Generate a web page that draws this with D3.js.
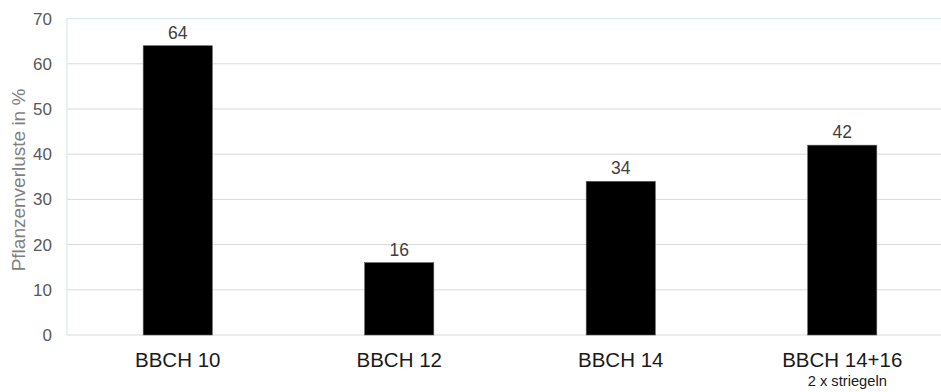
<!DOCTYPE html>
<html><head><meta charset="utf-8">
<script src="https://cdn.jsdelivr.net/npm/d3@7"></script>
<style>body{margin:0;background:#fff;}svg{display:block;font-family:"Liberation Sans",Arial,sans-serif;}</style>
</head><body>
<svg id="c" width="941" height="392"></svg>
<script>
const categories = ["BBCH 10", "BBCH 12", "BBCH 14", "BBCH 14+16"];
const subLabels = ["", "", "", "2 x striegeln"];
const values = [64, 16, 34, 42];
const yTicks = [0, 10, 20, 30, 40, 50, 60, 70];
const yTitle = "Pflanzenverluste in %";

(function () {
const svg = d3.select("#c");
const mLeft = 67, mRight = 953, mTop = 18.6, mBottom = 335;
const x = d3.scaleBand().domain(categories).range([mLeft, mRight]).padding(0);
const y = d3.scaleLinear().domain([0, 70]).range([mBottom, mTop]);
const barW = x.bandwidth() * 0.312;

// gridlines
svg.append("g").selectAll("line").data(yTicks.filter(t => t < 70)).join("line")
  .attr("x1", mLeft).attr("x2", 941).attr("y1", d => y(d)).attr("y2", d => y(d))
  .attr("stroke", "#d9d9d9").attr("stroke-width", 1);
// top & left border (light teal)
svg.append("line").attr("x1", mLeft).attr("x2", 941).attr("y1", y(70)).attr("y2", y(70))
  .attr("stroke", "#d6ecee").attr("stroke-width", 1.2);
svg.append("line").attr("x1", mLeft).attr("x2", mLeft).attr("y1", y(70)).attr("y2", y(0))
  .attr("stroke", "#d6ecee").attr("stroke-width", 1.2);

// y axis
const yAxis = d3.axisLeft(y).tickValues(yTicks).tickSize(0).tickPadding(15);
const yg = svg.append("g").attr("transform", `translate(${mLeft},0)`).call(yAxis);
yg.select(".domain").remove();
yg.selectAll("text").attr("fill", "#595959").attr("font-size", 17).attr("font-family", "Liberation Sans, Arial, sans-serif");

// bars
svg.append("g").selectAll("rect").data(values).join("rect")
  .attr("x", (d, i) => x(categories[i]) + x.bandwidth() / 2 - barW / 2)
  .attr("width", barW)
  .attr("y", d => y(d)).attr("height", d => y(0) - y(d))
  .attr("fill", "#000").attr("stroke", "#595959").attr("stroke-width", 0.6);

// value labels
svg.append("g").selectAll("text").data(values).join("text")
  .attr("x", (d, i) => x(categories[i]) + x.bandwidth() / 2)
  .attr("y", d => y(d) - 7)
  .attr("text-anchor", "middle").attr("font-size", 17.5).attr("fill", "#404040")
  .text(d => d);

// x axis labels
const xAxis = d3.axisBottom(x).tickSize(0).tickPadding(0);
const xg = svg.append("g").attr("transform", `translate(0,${mBottom})`).call(xAxis);
xg.select(".domain").remove();
xg.selectAll("text").attr("y", 32).attr("dy", null)
  .attr("fill", "#1a1a1a").attr("font-size", 20.5).attr("font-family", "Liberation Sans, Arial, sans-serif");

svg.append("g").selectAll("text").data(subLabels).join("text")
  .attr("x", (d, i) => x(categories[i]) + x.bandwidth() / 2 + 5)
  .attr("y", 386)
  .attr("text-anchor", "middle").attr("font-size", 14.7).attr("fill", "#1a1a1a")
  .text(d => d);

// y title
svg.append("text").attr("transform", "translate(25,180) rotate(-90)")
  .attr("text-anchor", "middle").attr("font-size", 19).attr("fill", "#7f7f7f")
  .text(yTitle);
})();
</script>
</body></html>
